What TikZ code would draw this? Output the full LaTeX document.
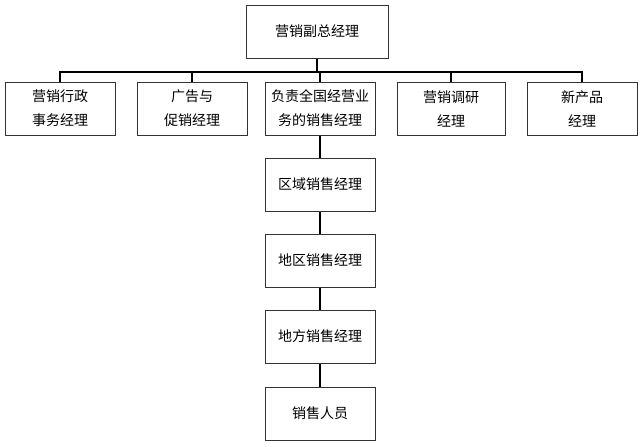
\documentclass[tikz,border=0pt]{standalone}
\usepackage{fontspec}
\newfontfamily\cjk{Noto Sans CJK SC}
\begin{document}
\begin{tikzpicture}[x=1pt,y=-1pt,
 box/.style={draw=black!80,line width=1pt,minimum width=110pt,minimum height=53pt,align=center,font=\cjk\fontsize{14}{24}\selectfont,inner sep=1pt},
 ln/.style={line width=2pt,black}]
\useasboundingbox (0,0) rectangle (640,447);
\node[box,minimum width=142pt] (top) at (317,31.5) {营销副总经理};
\node[box] (a) at (60,108.5) {营销行政\\事务经理};
\node[box] (b) at (192,108.5) {广告与\\促销经理};
\node[box] (c) at (320,108.5) {负责全国经营业\\务的销售经理};
\node[box,minimum width=108pt] (d) at (451,108.5) {营销调研\\经理};
\node[box] (e) at (582,108.5) {新产品\\经理};
\node[box] (f) at (320,184.5) {区域销售经理};
\node[box] (g) at (320,260.5) {地区销售经理};
\node[box] (h) at (320,336.5) {地方销售经理};
\node[box] (i) at (320,413.5) {销售人员};
\coordinate (j) at (317,72);
\draw[ln] (top.south) -- (j);
\draw[ln] (a.north) |- (j) -| (e.north);
\foreach \n in {b,c,d} \draw[ln] (\n.north) -- (\n.north |- j);
\draw[ln] (c) -- (f) -- (g) -- (h) -- (i);
\end{tikzpicture}
\end{document}
